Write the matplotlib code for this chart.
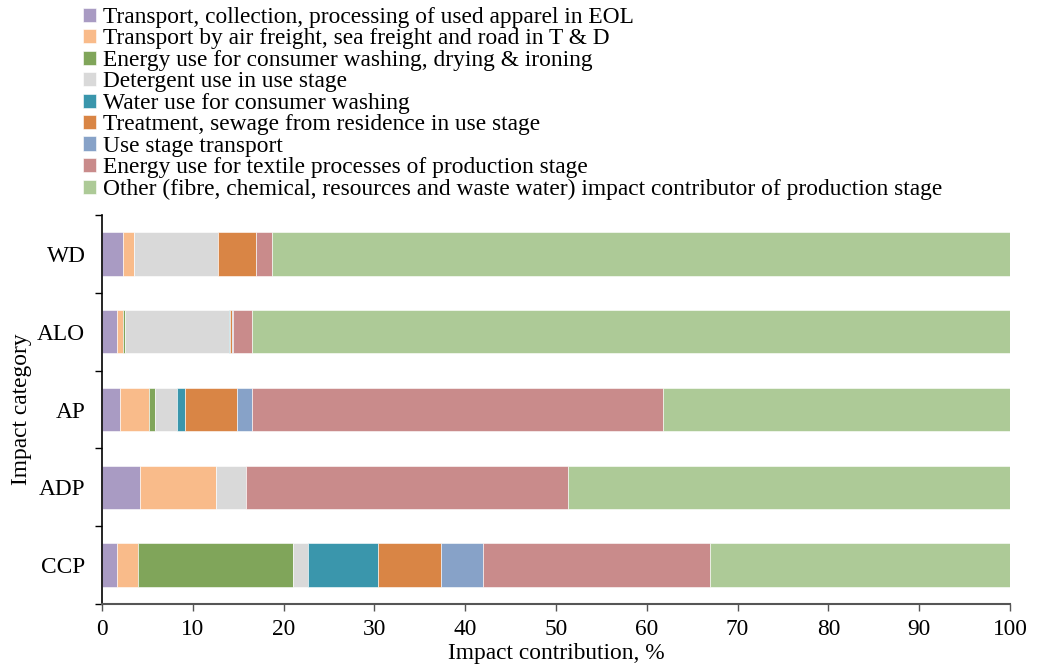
import numpy as np
import matplotlib
matplotlib.use("Agg")
import matplotlib.pyplot as plt

plt.rcParams["font.family"] = ["Liberation Serif", "DejaVu Serif"]

# Impact categories, bottom to top
categories = ["CCP", "ADP", "AP", "ALO", "WD"]

legend_labels = [
    "Transport, collection, processing of used apparel in EOL",
    "Transport by air freight, sea freight and road in T & D",
    "Energy use for consumer washing, drying & ironing",
    "Detergent use in use stage",
    "Water use for consumer washing",
    "Treatment, sewage from residence in use stage",
    "Use stage transport",
    "Energy use for textile processes of production stage",
    "Other (fibre, chemical, resources and waste water) impact contributor of production stage",
]

# contributions in %, order matches categories (CCP, ADP, AP, ALO, WD)
eol_transport = [1.6, 4.2, 2.0, 1.65, 2.3]
td_transport = [2.35, 8.3, 3.2, 0.65, 1.2]
energy_washing = [17.05, 0.0, 0.65, 0.23, 0.0]
detergent = [1.65, 3.4, 2.4, 11.45, 9.3]
water_washing = [7.75, 0.0, 0.85, 0.15, 0.0]
sewage_treatment = [6.9, 0.0, 5.8, 0.2, 4.2]
use_transport = [4.7, 0.0, 1.65, 0.1, 0.0]
energy_textile = [25.0, 35.4, 45.25, 2.07, 1.75]
other_production = [33.0, 48.7, 38.2, 83.5, 81.25]

series = [eol_transport, td_transport, energy_washing, detergent, water_washing,
          sewage_treatment, use_transport, energy_textile, other_production]

colors = ["#a99bc3", "#f9bb8a", "#80a55a", "#d9d9d9", "#3a96ac",
          "#d98545", "#87a2c8", "#c98b8b", "#adca97"]

fs = 16.8

fig = plt.figure(figsize=(10.39, 6.71), dpi=100)
ax = fig.add_axes([0.0982, 0.0998, 0.8739, 0.5798])

y = np.arange(len(categories))
left = np.zeros(len(categories))
handles = []
for vals, col, lab in zip(series, colors, legend_labels):
    vals = np.array(vals)
    b = ax.barh(y, vals, left=left, height=0.56, color=col,
                edgecolor="white", linewidth=0.4, label=lab)
    handles.append(b)
    left += vals

ax.set_xlim(0, 100)
ax.set_ylim(-0.5, len(categories) - 0.5)
ax.set_xticks(np.arange(0, 101, 10))

# boundary ticks on y axis, labels at centres
ax.set_yticks(np.arange(-0.5, len(categories), 1.0))
ax.set_yticklabels([])
ax.set_yticks(y, minor=True)
ax.set_yticklabels(categories, minor=True)
ax.tick_params(axis="y", which="minor", length=0, pad=12, labelsize=fs)
ax.tick_params(axis="y", which="major", length=5, width=1, color="black")
ax.tick_params(axis="x", length=5, width=1, color="#555555", labelsize=fs, pad=6)

for s in ["top", "right"]:
    ax.spines[s].set_visible(False)
ax.spines["left"].set_color("black")
ax.spines["bottom"].set_color("#555555")
ax.spines["left"].set_linewidth(1.2)
ax.spines["bottom"].set_linewidth(1.5)

ax.set_xlabel("Impact contribution, %", fontsize=fs, labelpad=2)
ax.set_ylabel("Impact category", fontsize=fs, labelpad=4)

fig.legend(handles, legend_labels, loc="upper left", bbox_to_anchor=(0.064, 1.014),
           frameon=False, fontsize=fs, handlelength=0.55, handleheight=0.55,
           handletextpad=0.3, labelspacing=0.02, borderpad=0.2)

fig.savefig("out.png", dpi=100)
